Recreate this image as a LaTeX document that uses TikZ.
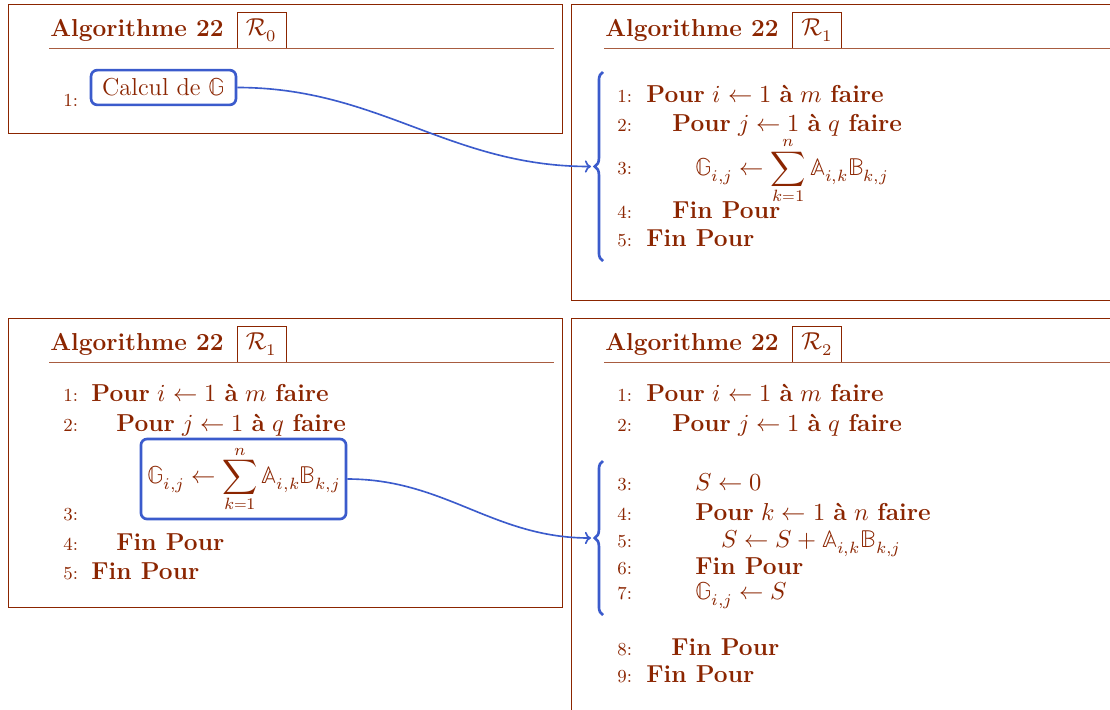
\documentclass[tikz,border=0pt]{standalone}
\usepackage{amsmath}
\usepackage{fontspec}
\usepackage{unicode-math}
\setmathfont{Latin Modern Math}
\DeclareMathAlphabet{\mathcalold}{OMS}{cmsy}{m}{n}
\usetikzlibrary{arrows.meta,decorations.pathreplacing}
\definecolor{algred}{RGB}{139,37,0}
\definecolor{algblue}{RGB}{59,91,204}
\tikzset{
  frame/.style={draw=algred, line width=0.45pt},
  titlerule/.style={draw=algred!75, line width=0.45pt},
  ttl/.style={anchor=base west, inner sep=0pt, text=algred, font=\fontsize{12}{14}\selectfont\bfseries},
  rbox/.style={draw=algred, line width=0.45pt, text=algred, inner sep=0pt, minimum width=24pt, minimum height=17.6pt, font=\fontsize{12}{14}\selectfont},
  num/.style={anchor=base west, inner sep=0pt, text=algred, font=\fontsize{9}{11}\selectfont},
  txt/.style={anchor=base west, inner sep=0pt, text=algred, font=\fontsize{12}{14}\selectfont},
  hlbox/.style={draw=algblue, line width=1.3pt, rounded corners=3pt, text=algred, inner sep=0pt},
  bracestyle/.style={draw=algblue, line width=1.3pt, decorate, decoration={brace, amplitude=4pt}},
  conn/.style={draw=algblue, line width=0.8pt, -{To[length=3pt,width=6pt]}},
}
\newcommand{\kw}[1]{\textbf{#1}}
\newcommand{\dsG}{\mathbb{G}}
\newcommand{\dsA}{\mathbb{A}}
\newcommand{\dsB}{\mathbb{B}}
\begin{document}
\begin{tikzpicture}[x=0.49pt, y=-0.49pt]
\clip (0,0) rectangle (1110,709);
\fill[white] (0,0) rectangle (1110,709);

% ---------- Box 1 : R0 ----------
\draw[frame] (8,4) rectangle (562,133);
\node[ttl] (t1) at (50,36) {Algorithme 22};
\node[rbox] (r1) at (261.5,30) {$\mathcalold{R}_0$};
\draw[titlerule] (49,48.5) -- (554,48.5);
\node[num] (a1n1) at (63,106) {1:};
\node[hlbox, minimum width=71pt, minimum height=17pt, font=\fontsize{12}{14}\selectfont] (calc) at (163.5,87.5) {Calcul de $\dsG$};

% ---------- Box 2 : R1 ----------
\draw[frame] (571.5,4) rectangle (1130,300);
\node[ttl] (t2) at (605,36) {Algorithme 22};
\node[rbox] (r2) at (817,30) {$\mathcalold{R}_1$};
\draw[titlerule] (604,48.5) -- (1117,48.5);
\node[num] (b1n1) at (617,102) {1:};
\node[num] (b1n2) at (617,131) {2:};
\node[num] (b1n3) at (617,174) {3:};
\node[num] (b1n4) at (617,218) {4:};
\node[num] (b1n5) at (617,246) {5:};
\node[txt] (b1l1) at (646,102) {\kw{Pour} $i \leftarrow 1$ \kw{à} $m$ \kw{faire}};
\node[txt] (b1l2) at (672,131) {\kw{Pour} $j \leftarrow 1$ \kw{à} $q$ \kw{faire}};
\node[txt] (b1l3) at (695,175) {$\dsG_{i,j} \leftarrow \displaystyle\sum_{k=1}^{n} \dsA_{i,k}\dsB_{k,j}$};
\node[txt] (b1l4) at (672,218) {\kw{Fin Pour}};
\node[txt] (b1l5) at (646,246) {\kw{Fin Pour}};
\coordinate (br1b) at (603,261);
\coordinate (br1t) at (603,72);
\draw[bracestyle] (br1b) -- (br1t);
\coordinate (tip1) at (591,166.5);
\draw[conn] (calc.east) to[out=0, in=180] (tip1);

% ---------- Box 3 : R1 ----------
\draw[frame] (8,318) rectangle (562,607);
\node[ttl] (t3) at (50,350) {Algorithme 22};
\node[rbox] (r3) at (261.5,344) {$\mathcalold{R}_1$};
\draw[titlerule] (49,362.5) -- (554,362.5);
\node[num] (c1n1) at (63,401) {1:};
\node[num] (c1n2) at (63,431) {2:};
\node[num] (c1n3) at (63,520) {3:};
\node[num] (c1n4) at (63,550) {4:};
\node[num] (c1n5) at (63,579) {5:};
\node[txt] (c1l1) at (91,401) {\kw{Pour} $i \leftarrow 1$ \kw{à} $m$ \kw{faire}};
\node[txt] (c1l2) at (116,431) {\kw{Pour} $j \leftarrow 1$ \kw{à} $q$ \kw{faire}};
\node[hlbox, minimum width=100.5pt, minimum height=39.2pt, font=\fontsize{12}{14}\selectfont] (sumbox) at (243.5,479) {$\dsG_{i,j} \leftarrow \displaystyle\sum_{k=1}^{n} \dsA_{i,k}\dsB_{k,j}$};
\node[txt] (c1l4) at (116,550) {\kw{Fin Pour}};
\node[txt] (c1l5) at (91,579) {\kw{Fin Pour}};

% ---------- Box 4 : R2 ----------
\draw[frame] (571.5,318) rectangle (1130,760);
\node[ttl] (t4) at (605,350) {Algorithme 22};
\node[rbox] (r4) at (817,344) {$\mathcalold{R}_2$};
\draw[titlerule] (604,362.5) -- (1117,362.5);
\node[num] (d1n1) at (617,401) {1:};
\node[num] (d1n2) at (617,431) {2:};
\node[num] (d1n3) at (617,490) {3:};
\node[num] (d1n4) at (617,520) {4:};
\node[num] (d1n5) at (617,547) {5:};
\node[num] (d1n6) at (617,574) {6:};
\node[num] (d1n7) at (617,599) {7:};
\node[num] (d1n8) at (617,655) {8:};
\node[num] (d1n9) at (617,682) {9:};
\node[txt] (d1l1) at (646,401) {\kw{Pour} $i \leftarrow 1$ \kw{à} $m$ \kw{faire}};
\node[txt] (d1l2) at (672,431) {\kw{Pour} $j \leftarrow 1$ \kw{à} $q$ \kw{faire}};
\node[txt] (d1l3) at (695,490) {$S \leftarrow 0$};
\node[txt] (d1l4) at (695,520) {\kw{Pour} $k \leftarrow 1$ \kw{à} $n$ \kw{faire}};
\node[txt] (d1l5) at (721,547) {$S \leftarrow S + \dsA_{i,k}\dsB_{k,j}$};
\node[txt] (d1l6) at (695,574) {\kw{Fin Pour}};
\node[txt] (d1l7) at (695,599) {$\dsG_{i,j} \leftarrow S$};
\node[txt] (d1l8) at (671,655) {\kw{Fin Pour}};
\node[txt] (d1l9) at (646,682) {\kw{Fin Pour}};
\coordinate (br2b) at (603,615);
\coordinate (br2t) at (603,461);
\draw[bracestyle] (br2b) -- (br2t);
\coordinate (tip2) at (591,538);
\draw[conn] (sumbox.east) to[out=0, in=180] (tip2);
\end{tikzpicture}
\end{document}
